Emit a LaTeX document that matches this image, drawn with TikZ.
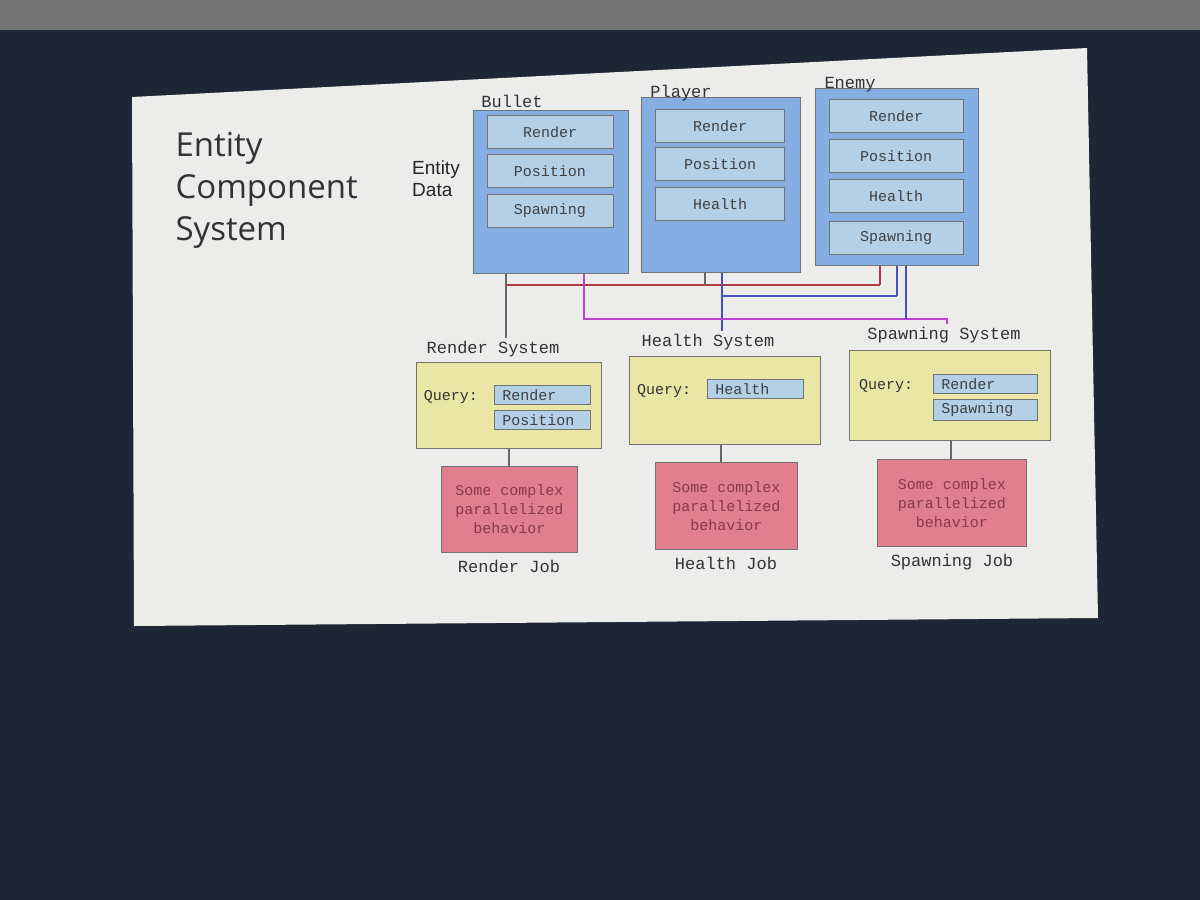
\documentclass[tikz,border=0pt]{standalone}
\usepackage{fontspec}
\setmainfont{Liberation Mono}
\newfontfamily\titlefont{Open Sans}
\newfontfamily\sansf{Liberation Sans}
\definecolor{bg}{HTML}{1E2535}
\definecolor{slide}{HTML}{ECECEA}
\definecolor{ent}{HTML}{86AEE3}
\definecolor{comp}{HTML}{B4D0E6}
\definecolor{sys}{HTML}{EAE6A6}
\definecolor{job}{HTML}{E27F8E}
\definecolor{jobtxt}{HTML}{8A3A46}
\definecolor{lred}{HTML}{B03848}
\definecolor{lblue}{HTML}{4A4EC0}
\definecolor{lmag}{HTML}{C040D0}
\tikzset{
  box/.style={draw=black!55, line width=0.8pt, inner sep=0pt, anchor=north west},
  ent/.style={box, fill=ent},
  comp/.style={draw=black!55, line width=0.7pt, fill=comp, minimum width=126pt, minimum height=33pt, font=\fontsize{15}{17}\selectfont, text=black!75},
  qc/.style={draw=black!55, line width=0.7pt, fill=comp, minimum height=19pt, anchor=west, font=\fontsize{15}{17}\selectfont, text=black!75, inner xsep=8pt, text width=80pt},
  sys/.style={box, fill=sys},
  job/.style={box, fill=job},
  lbl/.style={font=\fontsize{17}{19}\selectfont, text=black!80},
  jt/.style={font=\fontsize{15}{19}\selectfont, text=jobtxt, align=center},
  ln/.style={line width=1.5pt}
}
\begin{document}
\begin{tikzpicture}[x=1pt,y=-1pt]
\fill[bg] (0,0) rectangle (1200,900);
\useasboundingbox (0,0) rectangle (1200,900);
\fill[black!55] (0,0) rectangle (1200,30);
\fill[slide] (132,97) -- (1087,48) -- (1098,618) -- (134,626) -- cycle;
% title
\node[anchor=west, font=\titlefont\fontsize{33}{42}\selectfont, text=black!80, align=left] (title) at (172,190) {Entity\\Component\\System};
\node[font=\sansf\fontsize{19}{22}\selectfont, text=black!85, align=left] (ed) at (436,179) {Entity\\Data};
% entities
\node[ent, minimum width=155pt, minimum height=163pt] (bullet) at (473,110) {};
\node[ent, minimum width=159pt, minimum height=175pt] (player) at (641,97) {};
\node[ent, minimum width=163pt, minimum height=177pt] (enemy) at (815,88) {};
\node[lbl] (lb) at (512,101) {Bullet};
\node[lbl] (lp) at (681,93) {Player};
\node[lbl] (le) at (850,85) {Enemy};
\node[comp] (b1) at (550,132) {Render};
\node[comp] (b2) at (550,171) {Position};
\node[comp] (b3) at (550,211) {Spawning};
\node[comp, minimum width=129pt] (p1) at (720,126) {Render};
\node[comp, minimum width=129pt] (p2) at (720,164) {Position};
\node[comp, minimum width=129pt] (p3) at (720,204) {Health};
\node[comp, minimum width=134pt] (e1) at (896,116) {Render};
\node[comp, minimum width=134pt] (e2) at (896,156) {Position};
\node[comp, minimum width=134pt] (e3) at (896,196) {Health};
\node[comp, minimum width=134pt] (e4) at (896,238) {Spawning};
% systems
\node[lbl] (rsl) at (493,349) {Render System};
\node[lbl] (hsl) at (708,342) {Health System};
\node[lbl] (ssl) at (944,335) {Spawning System};
\node[sys, minimum width=185pt, minimum height=86pt] (rs) at (416,362) {};
\node[sys, minimum width=191pt, minimum height=88pt] (hs) at (629,356) {};
\node[sys, minimum width=201pt, minimum height=90pt] (ss) at (849,350) {};
\node[lbl, font=\fontsize{15}{17}\selectfont] (rq) at (451,397) {Query:};
\node[lbl, font=\fontsize{15}{17}\selectfont] (hq) at (664,391) {Query:};
\node[lbl, font=\fontsize{15}{17}\selectfont] (sq) at (886,386) {Query:};
\node[qc] (rq1) at (494,395) {Render};
\node[qc] (rq2) at (494,420) {Position};
\node[qc] (hq1) at (707,389) {Health};
\node[qc, text width=88pt] (sq1) at (933,384) {Render};
\node[qc, text width=88pt] (sq2) at (933,410) {Spawning};
% jobs
\node[job, minimum width=136pt, minimum height=86pt] (rj) at (441,466) {};
\node[job, minimum width=142pt, minimum height=87pt] (hj) at (655,462) {};
\node[job, minimum width=149pt, minimum height=87pt] (sj) at (877,459) {};
\node[jt] at (rj.center) {Some complex\\parallelized\\behavior};
\node[jt] at (hj.center) {Some complex\\parallelized\\behavior};
\node[jt] at (sj.center) {Some complex\\parallelized\\behavior};
\node[lbl] (rjl) at (509,566) {Render Job};
\node[lbl] (hjl) at (726,563) {Health Job};
\node[lbl] (sjl) at (952,562) {Spawning Job};
\draw[ln, black!60] (rs.south -| 509,0) -- (rj.north -| 509,0);
\draw[ln, black!60] (hs.south -| 721,0) -- (hj.north -| 721,0);
\draw[ln, black!60] (ss.south -| 951,0) -- (sj.north -| 951,0);
% connectors
\draw[ln, black!60] (bullet.south -| 506,0) -- (rsl.north -| 506,0);
\draw[ln, lred] (506,285) -- (880,285);
\draw[ln, black!60] (player.south -| 705,0) -- (705,285);
\draw[ln, lred] (enemy.south -| 880,0) -- (880,285);
\draw[ln, lblue] (player.south -| 722,0) -- (hsl.north -| 722,0);
\draw[ln, lblue] (722,296) -- (897,296);
\draw[ln, lblue] (enemy.south -| 897,0) -- (897,296);
\draw[ln, lmag] (bullet.south -| 584,0) -- (584,319) -- (947,319) -- (ssl.north -| 947,0);
\draw[ln, lblue] (enemy.south -| 906,0) -- (906,319);
\end{tikzpicture}
\end{document}
